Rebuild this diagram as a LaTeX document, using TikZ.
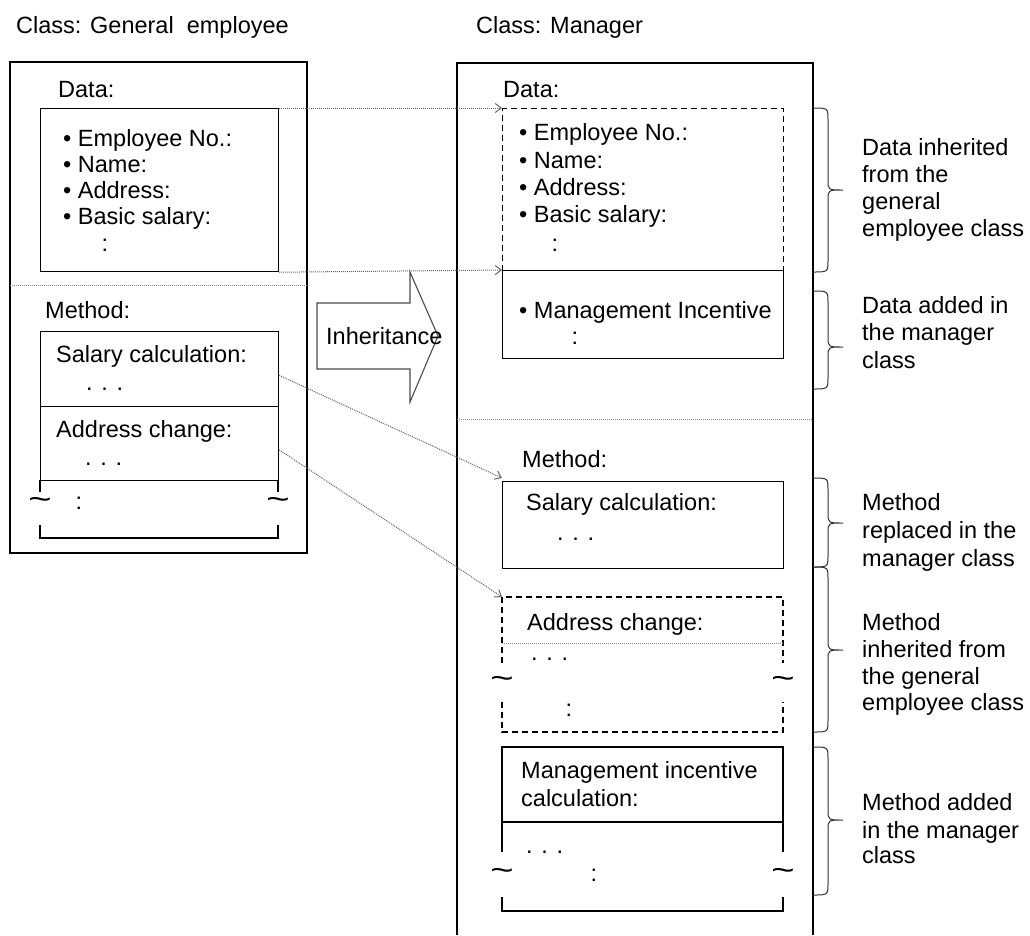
\documentclass[tikz,border=0pt]{standalone}
\usepackage{fontspec}
\setmainfont{Liberation Sans}
\usetikzlibrary{arrows.meta}
\newcommand{\figfont}{\fontsize{23.5}{27}\selectfont}
\newcommand{\wavy}{\scalebox{1.7}[1.3]{\textasciitilde}}
\newcommand{\mybrace}[3]{%
  \draw[bracestyle] (813,#1) .. controls (828,#1) .. (828,#1+12) -- (828,#2-10)
    .. controls (828,#2) .. (843,#2) .. controls (828,#2) .. (828,#2+10)
    -- (828,#3-12) .. controls (828,#3) .. (813,#3);}
\begin{document}
\begin{tikzpicture}[x=1pt,y=-1pt,
  line/.style={line width=1.2pt, black},
  dashedline/.style={line width=1.2pt, black, dash pattern=on 6pt off 4pt},
  sep/.style={line width=1pt, black!45, densely dotted},
  link/.style={line width=1pt, black!60, densely dotted,
    -{Straight Barb[length=6pt,width=9pt,line width=1pt]}},
  bracestyle/.style={line width=1pt, black!80},
  arrowshape/.style={line width=1.1pt, black!70},
  txt/.style={anchor=base west, inner sep=0pt, font=\figfont},
  sym/.style={anchor=center, inner sep=0pt, font=\figfont},
  boxsolid/.style={draw, line width=1.2pt, anchor=north west, inner sep=0pt},
  boxdashed/.style={boxsolid, dash pattern=on 6pt off 4pt}
]
\useasboundingbox (0,0) rectangle (1030,935);

% ---------------- Left class ----------------
\node[txt] (ltitle) at (16,33) {Class: General\ \ employee};
\draw[line] (10,62) rectangle (307,553);
\node[txt] (ldatalbl) at (58,97) {Data:};
\node[boxsolid, minimum width=238pt, minimum height=163pt] (ldata) at (40,108) {};
\node[txt] (le1) at (63,146) {\textbullet\ Employee No.:};
\node[txt] (le2) at (63,172) {\textbullet\ Name:};
\node[txt] (le3) at (63,198) {\textbullet\ Address:};
\node[txt] (le4) at (63,224) {\textbullet\ Basic salary:};
\node[sym] (le5) at (105,245) {:};
\draw[sep] (10,285) -- (307,285);

\node[txt] (lmethlbl) at (45,318) {Method:};
\node[boxsolid, minimum width=238pt, minimum height=75pt] (lsal) at (40,331) {};
\node[boxsolid, minimum width=238pt, minimum height=74pt] (ladr) at (40,406) {};
\node[txt] (lsaltxt) at (56,362) {Salary calculation:};
\node[txt] (lsaldots) at (86,390) {. . .};
\node[txt] (ladrtxt) at (56,437) {Address change:};
\node[txt] (ladrdots) at (85,465) {. . .};
\draw[line] (40,480) -- (40,492);
\draw[line] (278,480) -- (278,492);
\draw[line] (40,525) -- (40,538) -- (278,538) -- (278,525);
\node[sym] (lwl) at (40,503) {\wavy};
\node[sym] (lwr) at (278,503) {\wavy};
\node[sym] (lcolon) at (79,503) {:};

% ---------------- Inheritance arrow ----------------
\draw[arrowshape] (317,303) -- (410,303) -- (410,272) -- (438,336) -- (410,402)
  -- (410,369) -- (317,369) -- cycle;
\node[txt] (inh) at (326,344) {Inheritance};

% ---------------- Right class ----------------
\node[txt] (rtitle) at (476,33) {Class: Manager};
\draw[line] (457,935) -- (457,63) -- (813,63) -- (813,935);
\node[txt] (rdatalbl) at (503,97) {Data:};
\node[boxdashed, minimum width=281pt, minimum height=162pt] (rdata) at (502,108) {};
\node[boxsolid, minimum width=281pt, minimum height=88pt] (rinc) at (502,270) {};
\node[txt] (re1) at (519,140) {\textbullet\ Employee No.:};
\node[txt] (re2) at (519,168) {\textbullet\ Name:};
\node[txt] (re3) at (519,195) {\textbullet\ Address:};
\node[txt] (re4) at (519,222) {\textbullet\ Basic salary:};
\node[sym] (re5) at (555,245) {:};
\node[txt] (re6) at (519,318) {\textbullet\ Management Incentive};
\node[sym] (re7) at (575,338) {:};
\draw[sep] (457,419) -- (813,419);

\node[txt] (rmethlbl) at (522,467) {Method:};
\node[boxsolid, minimum width=281pt, minimum height=87pt] (rsal) at (502,481) {};
\node[txt] (rsaltxt) at (526,510) {Salary calculation:};
\node[txt] (rsaldots) at (557,540) {. . .};

\coordinate (radr) at (502,597);
\draw[dashedline] (502,663) -- (radr) -- (783,597) -- (783,663);
\draw[sep] (502,643) -- (783,643);
\draw[dashedline] (502,702) -- (502,732) -- (783,732) -- (783,702);
\node[txt] (radrtxt) at (527,630) {Address change:};
\node[txt] (radrdots) at (531,660) {. . .};
\node[sym] (rwl1) at (502,682) {\wavy};
\node[sym] (rwr1) at (783,682) {\wavy};
\node[sym] (rcolon1) at (569,710) {:};

\draw[line] (502,852) -- (502,747) -- (783,747) -- (783,852);
\draw[line] (502,822) -- (783,822);
\draw[line] (502,897) -- (502,911) -- (783,911) -- (783,897);
\node[txt] (rmi1) at (521,778) {Management incentive};
\node[txt] (rmi2) at (521,806) {calculation:};
\node[txt] (rmidots) at (526,853) {. . .};
\node[sym] (rwl2) at (502,874) {\wavy};
\node[sym] (rwr2) at (783,874) {\wavy};
\node[sym] (rcolon2) at (594,875) {:};

% ---------------- Connectors ----------------
\draw[link] (ldata.north east) -- (rdata.north west);
\draw[link] (ldata.south east) -- (rinc.north west);
\draw[link] (lsal.-3) -- ([yshift=3pt]rsal.north west);
\draw[link] (ladr.-3) -- (radr);

% ---------------- Braces and notes ----------------
\mybrace{108}{190}{272}
\mybrace{291}{347}{389}
\mybrace{478}{523}{567}
\mybrace{567}{650}{732}
\mybrace{747}{820}{895}

\node[txt] (n1a) at (862,155) {Data inherited};
\node[txt] (n1b) at (862,182) {from the};
\node[txt] (n1c) at (862,209) {general};
\node[txt] (n1d) at (862,236) {employee class};

\node[txt] (n2a) at (862,313) {Data added in};
\node[txt] (n2b) at (862,340) {the manager};
\node[txt] (n2c) at (862,368) {class};

\node[txt] (n3a) at (862,510) {Method};
\node[txt] (n3b) at (862,538) {replaced in the};
\node[txt] (n3c) at (862,566) {manager class};

\node[txt] (n4a) at (862,630) {Method};
\node[txt] (n4b) at (862,657) {inherited from};
\node[txt] (n4c) at (862,684) {the general};
\node[txt] (n4d) at (862,710) {employee class};

\node[txt] (n5a) at (862,810) {Method added};
\node[txt] (n5b) at (862,838) {in the manager};
\node[txt] (n5c) at (862,863) {class};
\end{tikzpicture}
\end{document}
